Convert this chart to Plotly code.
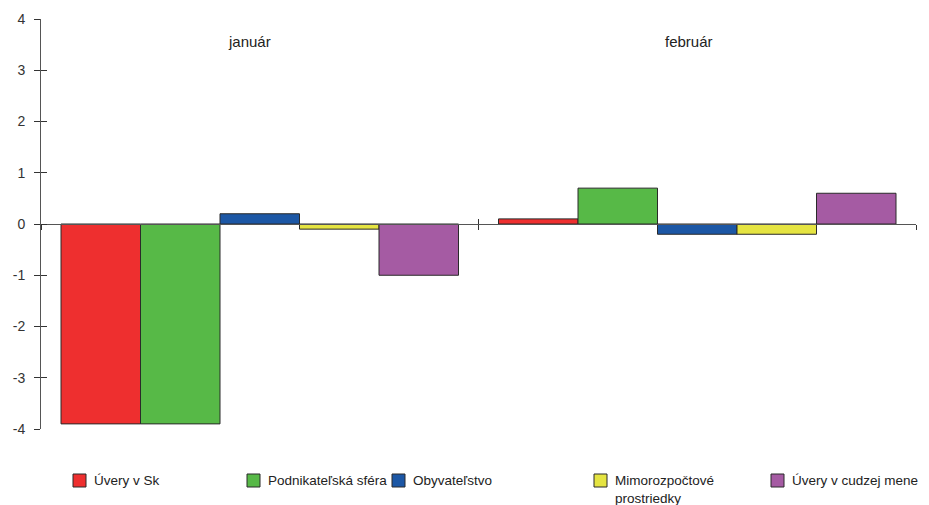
import plotly.graph_objects as go

months = ["január", "február"]
series_names = ["Úvery v Sk", "Podnikateľská sféra", "Obyvateľstvo",
                "Mimorozpočtové<br>prostriedky", "Úvery v cudzej mene"]
uvery_sk = [-3.9, 0.1]
podnikatelska = [-3.9, 0.7]
obyvatelstvo = [0.2, -0.2]
mimorozpoctove = [-0.1, -0.2]
cudzia_mena = [-1.0, 0.6]
y_ticks = [-4, -3, -2, -1, 0, 1, 2, 3, 4]
y_tick_labels = [str(v) for v in y_ticks]

series_values = [uvery_sk, podnikatelska, obyvatelstvo, mimorozpoctove, cudzia_mena]
colors = ["#EE2F2F", "#57B947", "#1C57A5", "#E5E442", "#A55BA3"]

FONT = "Liberation Sans, Arial, sans-serif"
OFF = 8  # page body margin of the written html
W, H = 929 - OFF, 505 - OFF
ml, mt = 41 - OFF, 19 - OFF
pw, ph = 875, 410
mr = W - ml - pw
mb = H - mt - ph

def px_to_paper_x(px):
    return (px - OFF - ml) / pw

def px_to_paper_y(py):
    return (mt + ph - (py - OFF)) / ph

fig = go.Figure()
for name, vals, col in zip(series_names, series_values, colors):
    fig.add_trace(go.Bar(
        x=months, y=vals, name=name.replace("<br>", " "), showlegend=False,
        marker=dict(color=col, line=dict(color="#2a2a2a", width=1)),
        hoverinfo="name+y",
    ))

fig.add_trace(go.Scatter(x=[None], y=[None], yaxis="y2", showlegend=False, hoverinfo="skip"))
fig.add_trace(go.Scatter(x=[None], y=[None], xaxis="x2", showlegend=False, hoverinfo="skip"))

# legend drawn below the plot
square_left = [73, 247, 392, 594, 771]
sq_top, sq_size = 474, 13
for name, col, sl in zip(series_names, colors, square_left):
    fig.add_shape(
        type="rect", xref="paper", yref="paper",
        x0=px_to_paper_x(sl), x1=px_to_paper_x(sl + sq_size),
        y0=px_to_paper_y(sq_top + sq_size), y1=px_to_paper_y(sq_top),
        fillcolor=col, line=dict(color="#2a2a2a", width=1),
    )
    multi = "<br>" in name
    fig.add_annotation(
        text=name, xref="paper", yref="paper",
        x=px_to_paper_x(sl + 19),
        y=px_to_paper_y(471 if multi else sq_top + sq_size / 2),
        xanchor="left", yanchor="top" if multi else "middle", align="left",
        showarrow=False,
        font=dict(family=FONT, size=13.5, color="#222222"),
    )

fig.update_layout(
    width=W, height=H,
    margin=dict(l=ml, r=mr, t=mt, b=mb, autoexpand=False),
    paper_bgcolor="white", plot_bgcolor="white",
    barmode="group", bargap=40 / 437.5, bargroupgap=0,
    showlegend=False,
    font=dict(family=FONT, size=14, color="#333333"),
    xaxis=dict(
        type="category", categoryorder="array", categoryarray=months,
        range=[-0.5, 1.5], anchor="free", position=0.5,
        showline=True, linecolor="#555555", linewidth=1,
        ticks="outside", tickson="boundaries", ticklen=5, tickcolor="#333333",
        showticklabels=False, showgrid=False, zeroline=False, fixedrange=True,
    ),
    xaxis2=dict(
        type="linear", overlaying="x", anchor="free", position=0.5,
        range=[-0.5, 1.5], tickvals=[0.5, 1.5], ticks="inside", ticklen=5,
        tickcolor="#333333", showticklabels=False, showline=False,
        showgrid=False, zeroline=False, fixedrange=True,
    ),
    yaxis=dict(
        range=[-4, 4], tickvals=y_ticks, ticktext=y_tick_labels,
        ticks="outside", ticklen=6,
        tickcolor="#333333", showline=True, linecolor="#555555", linewidth=1,
        showgrid=False, zeroline=False, ticklabelstandoff=6,
        tickfont=dict(family=FONT, size=14, color="#333333"), fixedrange=True,
    ),
    yaxis2=dict(
        range=[-4, 4], overlaying="y", tickvals=y_ticks, ticks="inside", ticklen=6,
        tickcolor="#333333", showline=False, showgrid=False, zeroline=False,
        showticklabels=False, fixedrange=True,
    ),
)

for m, xc in zip(months, [249.5, 688.5]):
    fig.add_annotation(
        text=m, xref="paper", yref="paper",
        x=px_to_paper_x(xc), y=px_to_paper_y(41),
        xanchor="center", yanchor="middle", showarrow=False,
        font=dict(family=FONT, size=15, color="#222222"),
    )

fig.write_html("out.html")
